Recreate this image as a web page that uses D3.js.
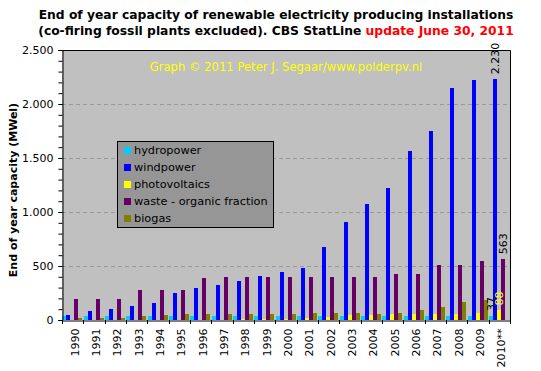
<!DOCTYPE html>
<html>
<head>
<meta charset="utf-8">
<style>
  body { margin: 0; background: #fff; }
  text { font-family: "DejaVu Sans", Verdana, sans-serif; }
</style>
</head>
<body>
<script src="https://cdn.jsdelivr.net/npm/d3@7/dist/d3.min.js"></script>
<script>
// years on the x axis
var years = ['1990', '1991', '1992', '1993', '1994', '1995', '1996', '1997', '1998', '1999',
  '2000', '2001', '2002', '2003', '2004', '2005', '2006', '2007', '2008', '2009', '2010**'];

// capacity in MWel per source
var hydropower = [37, 37, 37, 37, 37, 37, 37, 37, 37, 37, 37, 37, 37, 37, 37, 37, 37, 37, 37, 37, 37];
var windpower = [50, 83, 101, 131, 153, 250, 299, 325, 361, 409, 447, 486, 680, 905, 1078, 1224, 1563, 1751, 2148, 2222, 2230];
var photovoltaics = [1, 1, 2, 2, 2, 2, 3, 4, 6, 9, 13, 21, 26, 46, 50, 51, 53, 53, 57, 68, 88];
var waste = [195, 195, 195, 278, 278, 278, 389, 398, 398, 398, 398, 398, 398, 398, 398, 426, 426, 509, 509, 546, 563];
var biogas = [19, 19, 19, 37, 46, 56, 56, 56, 56, 56, 56, 65, 65, 65, 56, 65, 93, 120, 167, 185, null];

var seriesNames = ['hydropower', 'windpower', 'photovoltaics', 'waste - organic fraction', 'biogas'];
var seriesValues = [hydropower, windpower, photovoltaics, waste, biogas];
var seriesColors = ['#00ccff', '#0000ff', '#ffff00', '#660066', '#808000'];

var yTicks = [0, 500, 1000, 1500, 2000, 2500];

var width = 541, height = 371;
var plot = { left: 62, right: 510, top: 50, bottom: 320 };

var svg = d3.select('body').append('svg')
  .attr('width', width)
  .attr('height', height);

var x = d3.scaleBand()
  .domain(years)
  .range([plot.left, plot.right]);

var xInner = d3.scaleBand()
  .domain(d3.range(seriesNames.length))
  .range([0, 20]);

var y = d3.scaleLinear()
  .domain([0, 2500])
  .range([plot.bottom, plot.top]);

var fmt = function(v) { return d3.format(',')(v).replace(/,/g, '.'); };

// plot background
svg.append('rect')
  .attr('x', plot.left).attr('y', plot.top)
  .attr('width', plot.right - plot.left).attr('height', plot.bottom - plot.top)
  .attr('fill', '#c0c0c0');

// dashed grid
svg.append('g')
  .selectAll('line')
  .data(yTicks.filter(d => d > 0 && d < 2500))
  .join('line')
    .attr('x1', plot.left).attr('x2', plot.right)
    .attr('y1', d => Math.round(y(d)) + 0.5).attr('y2', d => Math.round(y(d)) + 0.5)
    .attr('stroke', '#999')
    .attr('stroke-dasharray', '4,3');

// bars
var groups = svg.append('g')
  .selectAll('g')
  .data(seriesValues)
  .join('g')
    .attr('fill', (d, i) => seriesColors[i]);

groups.each(function(vals, si) {
  d3.select(this).selectAll('rect')
    .data(vals.map((v, i) => ({ year: years[i], v: v })).filter(d => d.v != null))
    .join('rect')
      .attr('shape-rendering', 'crispEdges')
      .attr('x', d => Math.round(x(d.year) + 0.4) + xInner(si))
      .attr('width', xInner.bandwidth())
      .attr('y', d => y(d.v))
      .attr('height', d => plot.bottom - y(d.v));
});

// value labels on the last year
var last = years.length - 1;
var labelData = [
  { si: 0, v: hydropower[last], color: '#000' },
  { si: 1, v: windpower[last], color: '#000' },
  { si: 2, v: photovoltaics[last], color: '#ffff00' },
  { si: 3, v: waste[last], color: '#000' }
];
svg.append('g')
  .selectAll('text')
  .data(labelData)
  .join('text')
    .attr('transform', d => 'translate(' + (Math.round(x(years[last]) + 0.4) + xInner(d.si) + 2) + ',' + (y(d.v) - 5) + ') rotate(-90)')
    .attr('dy', '0.35em')
    .attr('font-size', 11)
    .attr('fill', d => d.color)
    .text(d => fmt(d.v));

// frame: top and right
svg.append('path')
  .attr('d', 'M' + plot.left + ',' + (plot.top + 0.5) + 'H' + (plot.right + 0.5) + 'V' + plot.bottom)
  .attr('fill', 'none')
  .attr('stroke', '#000');

// y axis
var yAxis = svg.append('g')
  .attr('transform', 'translate(' + (plot.left + 0.5) + ',0)')
  .call(d3.axisLeft(y).tickValues(yTicks).tickFormat(fmt).tickSize(4).tickPadding(5));
yAxis.select('.domain').attr('stroke', '#000');
yAxis.selectAll('text').attr('font-size', 11).attr('font-family', 'DejaVu Sans').attr('fill', '#000');

svg.append('g')
  .attr('transform', 'translate(' + (plot.left + 0.5) + ',0)')
  .call(d3.axisLeft(y).tickValues(d3.range(0, 2501, 100)).tickFormat('').tickSize(4))
  .select('.domain').remove();

// x axis
var xAxis = svg.append('g')
  .attr('transform', 'translate(0,' + (plot.bottom + 0.5) + ')')
  .call(d3.axisBottom(x).tickSize(0).tickPadding(0));
xAxis.select('.domain').attr('stroke', '#000');
xAxis.selectAll('text')
  .attr('font-size', 11)
  .attr('font-family', 'DejaVu Sans')
  .attr('fill', '#000')
  .attr('text-anchor', 'end')
  .attr('transform', 'translate(2,8) rotate(-90)')
  .attr('dy', '0.35em')
  .attr('y', 0);

svg.append('g')
  .selectAll('line')
  .data(d3.range(years.length + 1))
  .join('line')
    .attr('x1', i => Math.round(plot.left + i * x.step()) + 0.5)
    .attr('x2', i => Math.round(plot.left + i * x.step()) + 0.5)
    .attr('y1', plot.bottom).attr('y2', plot.bottom + 4)
    .attr('stroke', '#000');

// y axis title
svg.append('text')
  .attr('transform', 'translate(16.5,190) rotate(-90)')
  .attr('text-anchor', 'middle')
  .attr('font-size', 11)
  .attr('font-weight', 'bold')
  .text('End of year capacity (MWel)');

// titles
svg.append('text')
  .attr('x', 276).attr('y', 19)
  .attr('text-anchor', 'middle')
  .attr('font-size', 12.3)
  .attr('font-weight', 'bold')
  .text('End of year capacity of renewable electricity producing installations');

var t2 = svg.append('text')
  .attr('x', 276).attr('y', 35)
  .attr('text-anchor', 'middle')
  .attr('font-size', 12.3)
  .attr('font-weight', 'bold');
t2.append('tspan').text('(co-firing fossil plants excluded). CBS StatLine ');
t2.append('tspan').attr('fill', '#ff0000').text('update June 30, 2011');

svg.append('text')
  .attr('x', 286).attr('y', 71)
  .attr('text-anchor', 'middle')
  .attr('font-size', 11.6)
  .attr('fill', '#ffff00')
  .text('Graph \u00a9 2011 Peter J. Segaar/www.polderpv.nl');

// legend
var legend = svg.append('g');
legend.append('rect')
  .attr('x', 117.5).attr('y', 141.5)
  .attr('width', 156).attr('height', 86)
  .attr('fill', '#969696')
  .attr('stroke', '#000');

var items = legend.selectAll('g')
  .data(seriesNames)
  .join('g')
    .attr('transform', (d, i) => 'translate(124,' + (150.5 + i * 17) + ')');
items.append('rect')
  .attr('x', 0).attr('y', -3.5)
  .attr('width', 7).attr('height', 7)
  .attr('fill', (d, i) => seriesColors[i]);
items.append('text')
  .attr('x', 10)
  .attr('dy', '0.35em')
  .attr('font-size', 11.3)
  .text(d => d);
</script>
</body>
</html>
